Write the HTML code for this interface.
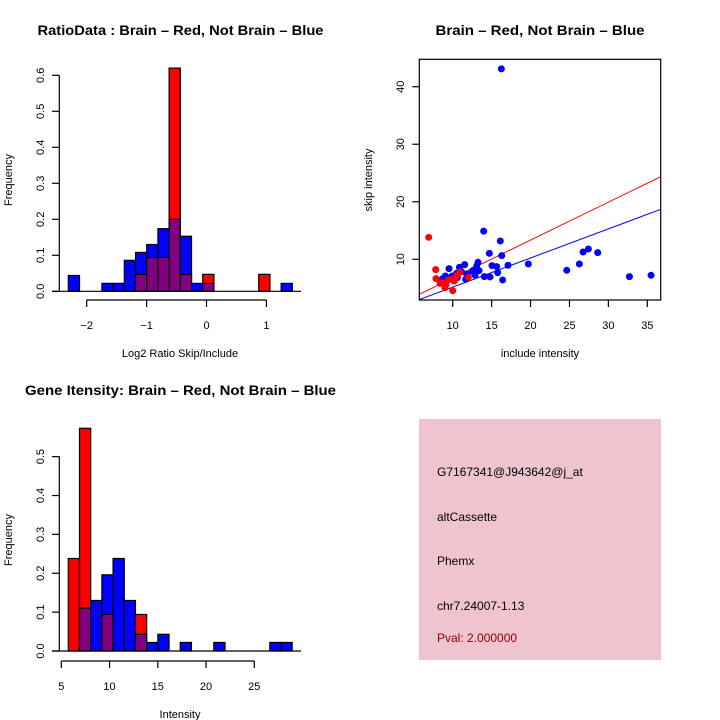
<!DOCTYPE html>
<html><head><meta charset="utf-8"><style>
html,body{margin:0;padding:0;background:#fff;}
svg{display:block;font-family:"Liberation Sans",Arial,sans-serif;}
</style></head><body>
<svg id="c" width="720" height="720" viewBox="0 0 720 720">
<text x="180.5" y="35" font-size="14" font-weight="bold" text-anchor="middle" textLength="286" lengthAdjust="spacingAndGlyphs">RatioData : Brain – Red, Not Brain – Blue</text>
<text x="540" y="35" font-size="14" font-weight="bold" text-anchor="middle" textLength="209" lengthAdjust="spacingAndGlyphs">Brain – Red, Not Brain – Blue</text>
<text x="180.5" y="395" font-size="14" font-weight="bold" text-anchor="middle" textLength="311" lengthAdjust="spacingAndGlyphs">Gene Itensity: Brain – Red, Not Brain – Blue</text>
<g id="p1"></g>
<g id="p2"></g>
<g id="p3"></g>
<g>
<rect x="419" y="419" width="242" height="241" fill="#efc4ce"/>
<text x="437" y="476" font-size="12">G7167341@J943642@j_at</text>
<text x="437" y="521" font-size="12">altCassette</text>
<text x="437" y="565" font-size="12">Phemx</text>
<text x="437" y="610" font-size="12">chr7.24007-1.13</text>
<text x="437" y="642" font-size="12" fill="#8b0000">Pval: 2.000000</text>
</g>
</svg>
<script>
// ---- Data ----
const ratioBinStart = -2.307, ratioBinWidth = 0.187;
const ratioBlue = [0.044,0,0,0.022,0.022,0.086,0.108,0.13,0.174,0.2,0.153,0.022,0.022,0,0,0,0,0,0,0.022];
const ratioRed  = [0,0,0,0,0,0,0.047,0.094,0.094,0.62,0.047,0,0.047,0,0,0,0,0.047,0,0];
const ratioXTicks = [-2,-1,0,1];
const ratioYTicks = [0,0.1,0.2,0.3,0.4,0.5,0.6];

const intBinStart = 5.725, intBinWidth = 1.16;
const intBlue = [0,0.11,0.13,0.196,0.238,0.13,0.043,0.022,0.043,0,0.022,0,0,0.022,0,0,0,0,0.022,0.022];
const intRed  = [0.238,0.573,0,0.094,0,0,0.094,0,0,0,0,0,0,0,0,0,0,0,0,0];
const intXTicks = [5,10,15,20,25];
const intYTicks = [0,0.1,0.2,0.3,0.4,0.5];

const blueX = [16.25,13.98,16.12,16.3,14.71,19.72,24.65,26.27,26.75,27.43,28.63,32.7,35.48,17.11,16.42,15.78,15.05,15.65,14.8,14.07,13.25,13.08,13.38,12.66,12.87,11.54,11.67,11.11,10.86,10.6,9.53,9.36,9.91,8.72,9.06,10.51,11.8,12.48];
const blueY = [43.1,14.9,13.19,10.64,11.04,9.19,8.09,9.19,11.27,11.8,11.16,6.99,7.22,8.96,6.41,7.68,8.9,8.73,6.93,6.99,9.48,8.84,8.03,8.09,7.22,9.07,6.52,7.86,8.61,6.81,8.38,6.76,7.1,6.64,7.1,7.57,7.45,7.91];
const redX = [6.92,7.82,7.86,8.37,9.01,10,8.72,9.44,9.87,10.51,10.94,12.01,9.14,10.21];
const redY = [13.82,8.2,6.64,5.83,5.08,4.55,5.89,6.41,6.52,7.16,7.74,6.87,5.54,6.23];
const redFit = [0.157,0.659];   // intercept, slope
const blueFit = [0.11,0.506];
const scXTicks = [10,15,20,25,30,35];
const scYTicks = [10,20,30,40];

const NS='http://www.w3.org/2000/svg';
function mk(parent,tag,attrs,text){const e=document.createElementNS(NS,tag);for(const k in attrs)e.setAttribute(k,attrs[k]);if(text!==undefined)e.textContent=text;parent.appendChild(e);return e;}

function hist(g,o){
  const sx=v=>o.x0px+(v-o.x0)*o.xs, sy=v=>o.y0px-v*o.ys;
  o.blue.forEach((b,i)=>{
    const r=o.red[i]; const l=sx(o.start+i*o.width), w=o.width*o.xs;
    const mx=Math.max(b,r), mn=Math.min(b,r);
    if(mx>0){
      const e=mk(g,'rect',{x:l,y:sy(mx),width:w,height:sy(0)-sy(mx),fill:b>=r?'#0000ff':'#ff0000',stroke:'#000','stroke-width':1.2});
      
      
    }
    if(mn>0){
      const e=mk(g,'rect',{x:l,y:sy(mn),width:w,height:sy(0)-sy(mn),fill:'#800080',stroke:'#000','stroke-width':1.2});
      
      
    }
  });
  const bl=mk(g,'line',{x1:52,x2:301,y1:sy(0),y2:sy(0),stroke:'#000','stroke-width':1.2});
  
  
  const yt=o.yTicks;
  const ya=mk(g,'line',{x1:59.3,x2:59.3,y1:sy(yt[0]),y2:sy(yt[yt.length-1]),stroke:'#000','stroke-width':1.2});
  
  
  yt.forEach(v=>{
    mk(g,'line',{x1:52,x2:59.3,y1:sy(v),y2:sy(v),stroke:'#000','stroke-width':1.2});
    const t=mk(g,'text',{x:0,y:0,'font-size':11,'text-anchor':'middle',transform:`translate(44,${sy(v)}) rotate(-90)`},v.toFixed(1));
    
    
  });
  const xt=o.xTicks, ay=o.axisY;
  const xa=mk(g,'line',{x1:sx(xt[0]),x2:sx(xt[xt.length-1]),y1:ay,y2:ay,stroke:'#000','stroke-width':1.2});
  
  
  xt.forEach(v=>{
    mk(g,'line',{x1:sx(v),x2:sx(v),y1:ay,y2:ay+7,stroke:'#000','stroke-width':1.2});
    const t=mk(g,'text',{x:sx(v),y:ay+29,'font-size':11,'text-anchor':'middle'},v<0?'\u2212'+(-v):String(v));
    
    
  });
  const xl=mk(g,'text',{x:180,y:ay+57,'font-size':11,'text-anchor':'middle'},o.xlab);
  
  
  const yl=mk(g,'text',{x:0,y:0,'font-size':11,'text-anchor':'middle',transform:`translate(12,${o.ylabY}) rotate(-90)`},'Frequency');
  
  
}

hist(document.getElementById('p1'),{blue:ratioBlue,red:ratioRed,start:ratioBinStart,width:ratioBinWidth,
  x0:-2,x0px:86.7,xs:59.9,y0px:291.3,ys:360,xTicks:ratioXTicks,yTicks:ratioYTicks,axisY:300,xlab:'Log2 Ratio Skip/Include',ylabY:180});
hist(document.getElementById('p3'),{blue:intBlue,red:intRed,start:intBinStart,width:intBinWidth,
  x0:5,x0px:61.3,xs:9.65,y0px:651,ys:388.7,xTicks:intXTicks,yTicks:intYTicks,axisY:661,xlab:'Intensity',ylabY:540});

(function(){
  const g=document.getElementById('p2');
  const L=419.3,R=660.7,T=59.3,B=300;
  const sx=v=>452.7+(v-10)*7.785, sy=v=>259.3-(v-10)*5.753;
  const cp=mk(g,'clipPath',{id:'sc'}); mk(cp,'rect',{x:L,y:T,width:R-L,height:B-T});
  const inner=mk(g,'g',{'clip-path':'url(#sc)'});
  const xa=[5.71,36.72];
  [[redFit,'#ff0000','red-fit-line'],[blueFit,'#0000ff','blue-fit-line']].forEach(([f,c,n])=>{
    const e=mk(inner,'line',{x1:sx(xa[0]),x2:sx(xa[1]),y1:sy(f[0]+f[1]*xa[0]),y2:sy(f[0]+f[1]*xa[1]),stroke:c,'stroke-width':1});
    
    
  });
  blueX.forEach((x,i)=>{
    const e=mk(inner,'circle',{cx:sx(x),cy:sy(blueY[i]),r:3.5,fill:'#0000ff'});
    
    
  });
  redX.forEach((x,i)=>{
    const e=mk(inner,'circle',{cx:sx(x),cy:sy(redY[i]),r:3.5,fill:'#ff0000'});
    
    
  });
  const box=mk(g,'rect',{x:L,y:T,width:R-L,height:B-T,fill:'none',stroke:'#000','stroke-width':1.2});
  
  
  scXTicks.forEach(v=>{
    mk(g,'line',{x1:sx(v),x2:sx(v),y1:B,y2:B+7,stroke:'#000','stroke-width':1.2});
    const t=mk(g,'text',{x:sx(v),y:B+29,'font-size':11,'text-anchor':'middle'},String(v));
    
    
  });
  scYTicks.forEach(v=>{
    mk(g,'line',{x1:L-7,x2:L,y1:sy(v),y2:sy(v),stroke:'#000','stroke-width':1.2});
    const t=mk(g,'text',{x:0,y:0,'font-size':11,'text-anchor':'middle',transform:`translate(404,${sy(v)}) rotate(-90)`},String(v));
    
    
  });
  const xl=mk(g,'text',{x:540,y:357,'font-size':11,'text-anchor':'middle'},'include intensity');
  
  
  const yl=mk(g,'text',{x:0,y:0,'font-size':11,'text-anchor':'middle',transform:'translate(372,180) rotate(-90)'},'skip intensity');
  
  
})();
</script>
</body></html>
